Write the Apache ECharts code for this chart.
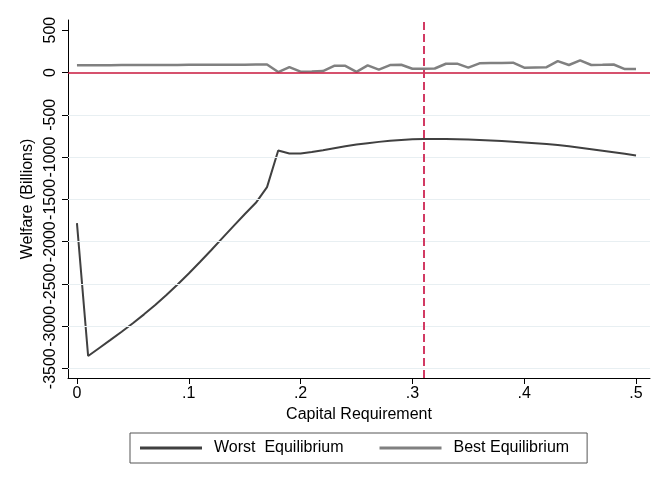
<!DOCTYPE html>
<html>
<head>
<meta charset="utf-8">
<script src="https://cdn.jsdelivr.net/npm/echarts@6/dist/echarts.min.js"></script>
<style>
  html, body { margin: 0; padding: 0; background: #fff; }
  #main { width: 656px; height: 485px; }
</style>
</head>
<body>
<div id="main"></div>
<script>
// capital requirement grid
var capReq = [0, 0.01, 0.02, 0.03, 0.04, 0.05, 0.06, 0.07, 0.08, 0.09,
    0.10, 0.11, 0.12, 0.13, 0.14, 0.15, 0.16, 0.17, 0.18, 0.19,
    0.20, 0.21, 0.22, 0.23, 0.24, 0.25, 0.26, 0.27, 0.28, 0.29,
    0.30, 0.31, 0.32, 0.33, 0.34, 0.35, 0.36, 0.37, 0.38, 0.39,
    0.40, 0.41, 0.42, 0.43, 0.44, 0.45, 0.46, 0.47, 0.48, 0.49, 0.50];

// welfare, worst equilibrium (billions)
var worstEq = [-1780, -3350, -3255, -3160, -3063, -2963, -2858, -2748, -2630, -2505,
    -2375, -2240, -2100, -1958, -1815, -1675, -1540, -1355, -922, -958,
    -958, -940, -918, -895, -872, -852, -835, -820, -807, -797,
    -790, -787, -786, -787, -789, -793, -798, -803, -810, -818,
    -827, -836, -846, -858, -873, -889, -906, -924, -942, -961, -980];

// welfare, best equilibrium (billions)
var bestEq = [85, 85, 86, 86, 87, 87, 88, 88, 89, 89,
    90, 90, 91, 91, 92, 92, 93, 94, 5, 63,
    10, 12, 16, 78, 79, 8, 83, 33, 87, 91,
    44, 45, 47, 103, 104, 57, 108, 111, 113, 116,
    57, 60, 63, 134, 88, 142, 88, 90, 94, 40, 42];

var xTicks = [0, 0.1, 0.2, 0.3, 0.4, 0.5];
var xTickLabels = ['0', '.1', '.2', '.3', '.4', '.5'];
var yTicks = [-3500, -3000, -2500, -2000, -1500, -1000, -500, 0, 500];
var gridValues = [-3500, -3000, -2500, -2000, -1500, -1000, -500];
var optimalReq = 0.31;

var chart = echarts.init(document.getElementById('main'));

var font = 'Liberation Sans, Arial, Helvetica, sans-serif';

var option = {
    backgroundColor: '#fff',
    animation: false,
    textStyle: { fontFamily: font },
    grid: { left: 68, right: 6, top: 20, bottom: 107 },
    legend: {
        left: 130,
        top: 433,
        data: ['Worst  Equilibrium', 'Best Equilibrium'],
        icon: 'rect',
        itemWidth: 62,
        itemHeight: 3,
        itemGap: 36,
        padding: [7, 18, 7, 10],
        borderColor: '#555',
        borderWidth: 1,
        textStyle: { fontSize: 16, color: '#000', fontFamily: font, padding: [0, 0, 0, 7] }
    },
    xAxis: {
        type: 'value',
        min: -0.008,
        max: 0.5125,
        name: 'Capital Requirement',
        nameLocation: 'middle',
        nameGap: 24,
        nameTextStyle: { fontSize: 16, color: '#000', fontFamily: font },
        axisLine: { show: true, onZero: false, lineStyle: { color: '#000', width: 1 } },
        axisTick: { show: true, length: 6, lineStyle: { color: '#000' }, customValues: xTicks },
        axisLabel: {
            fontSize: 16, color: '#000', margin: 8, fontFamily: font,
            customValues: xTicks,
            formatter: function (v) {
                var i = xTicks.indexOf(v);
                return i >= 0 ? xTickLabels[i] : '';
            }
        },
        splitLine: { show: false }
    },
    yAxis: {
        type: 'value',
        min: -3610,
        max: 620,
        name: 'Welfare (Billions)',
        nameLocation: 'middle',
        nameGap: 30,
        nameTextStyle: { fontSize: 16, color: '#000', fontFamily: font },
        axisLine: { show: true, onZero: false, lineStyle: { color: '#000', width: 1 } },
        axisTick: { show: true, length: 6, lineStyle: { color: '#000' }, customValues: yTicks },
        axisLabel: {
            fontSize: 16, color: '#000', margin: 9, rotate: 90, fontFamily: font,
            hideOverlap: false,
            customValues: yTicks,
            formatter: function (v) { return String(v); }
        },
        splitLine: { show: false }
    },
    series: [
        {
            name: 'gridlines',
            type: 'line',
            data: [],
            z: 1,
            silent: true,
            markLine: {
                silent: true,
                symbol: 'none',
                label: { show: false },
                lineStyle: { color: '#e8eff2', width: 1, type: 'solid' },
                data: gridValues.map(function (v) { return { yAxis: v }; })
            }
        },
        {
            name: 'reference',
            type: 'line',
            data: [],
            z: 2,
            silent: true,
            markLine: {
                silent: true,
                symbol: 'none',
                label: { show: false },
                data: [
                    { yAxis: 0, lineStyle: { color: '#c8173d', width: 1.5, type: 'solid' } },
                    { xAxis: optimalReq, lineStyle: { color: '#d23a63', width: 2, type: [8, 4] } }
                ]
            }
        },
        {
            name: 'Worst  Equilibrium',
            type: 'line',
            z: 3,
            showSymbol: false,
            symbol: 'none',
            data: capReq.map(function (x, i) { return [x, worstEq[i]]; }),
            lineStyle: { color: '#404040', width: 2 },
            itemStyle: { color: '#404040' }
        },
        {
            name: 'Best Equilibrium',
            type: 'line',
            z: 3,
            showSymbol: false,
            symbol: 'none',
            data: capReq.map(function (x, i) { return [x, bestEq[i]]; }),
            lineStyle: { color: '#808080', width: 2.5 },
            itemStyle: { color: '#808080' }
        }
    ]
};

chart.setOption(option);
</script>
</body>
</html>
